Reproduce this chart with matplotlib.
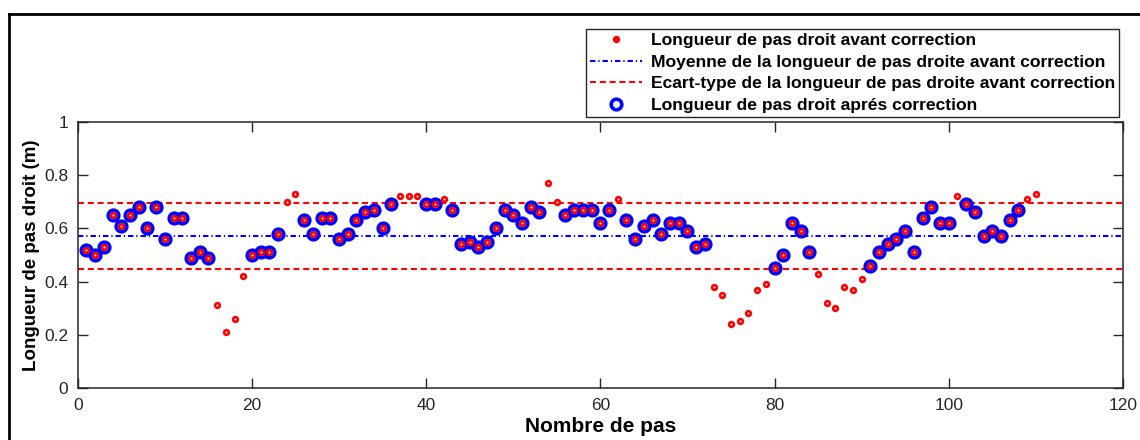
import numpy as np
import matplotlib
matplotlib.use("Agg")
import matplotlib.pyplot as plt
from matplotlib.lines import Line2D
from matplotlib.ticker import FuncFormatter

plt.rcParams['font.family'] = ['Liberation Sans', 'DejaVu Sans']

# right step length before correction, steps 1..110 (m)
pas = np.arange(1, 111)
avant = [0.52, 0.50, 0.53, 0.65, 0.61, 0.65, 0.68, 0.60, 0.68, 0.56,
         0.64, 0.64, 0.49, 0.51, 0.49, 0.31, 0.21, 0.26, 0.42, 0.50,
         0.51, 0.51, 0.58, 0.70, 0.73, 0.63, 0.58, 0.64, 0.64, 0.56,
         0.58, 0.63, 0.66, 0.67, 0.60, 0.69, 0.72, 0.72, 0.72, 0.69,
         0.69, 0.71, 0.67, 0.54, 0.55, 0.53, 0.55, 0.60, 0.67, 0.65,
         0.62, 0.68, 0.66, 0.77, 0.70, 0.65, 0.67, 0.67, 0.67, 0.62,
         0.67, 0.71, 0.63, 0.56, 0.61, 0.63, 0.58, 0.62, 0.62, 0.59,
         0.53, 0.54, 0.38, 0.35, 0.24, 0.25, 0.28, 0.37, 0.39, 0.45,
         0.50, 0.62, 0.59, 0.51, 0.43, 0.32, 0.30, 0.38, 0.37, 0.41,
         0.46, 0.51, 0.54, 0.56, 0.59, 0.51, 0.64, 0.68, 0.62, 0.62,
         0.72, 0.69, 0.66, 0.57, 0.59, 0.57, 0.63, 0.67, 0.71, 0.73]
moyenne = 0.571
ecart = 0.125

avant = np.array(avant)
haut = moyenne + ecart
bas = moyenne - ecart
# after correction: only the steps inside mean +/- std are kept
garde = (avant >= bas) & (avant <= haut)

fig = plt.figure(figsize=(11.4, 4.4), dpi=100)
ax = fig.add_axes([0.0682, 0.118, 0.9168, 0.6055])

ax.plot(pas, avant, 'o', color='red', markersize=5.3, markeredgewidth=0,
        label='Longueur de pas droit avant correction', zorder=4)
ax.plot(pas, avant, 'o', color='white', markersize=1.4, markeredgewidth=0,
        zorder=5)
ax.plot([0, 120], [moyenne, moyenne], color='blue', lw=1.5,
        linestyle=(0, (2.6, 1.4, 0.6, 1.4)),
        label='Moyenne de la longueur de pas droite avant correction')
ax.plot([0, 120], [haut, haut], color='red', lw=1.5,
        linestyle=(0, (2.9, 1.8)),
        label='Ecart-type de la longueur de pas droite avant correction')
ax.plot([0, 120], [bas, bas], color='red', lw=1.5,
        linestyle=(0, (2.9, 1.8)))
ax.plot(pas[garde], avant[garde], 'o', markerfacecolor='none',
        markeredgecolor='blue', markersize=7.6, markeredgewidth=2.6,
        label='Longueur de pas droit aprés correction', zorder=3)

ax.set_xlim(0, 120)
ax.set_ylim(0, 1)
ax.set_xticks(np.arange(0, 121, 20))
ax.set_yticks(np.arange(0, 1.01, 0.2))
ax.yaxis.set_major_formatter(FuncFormatter(lambda v, p: '%g' % round(v, 1)))
ax.tick_params(direction='in', length=7, width=1, top=True, right=True,
               labelsize=12.5, colors='#262626', pad=7)
for s in ax.spines.values():
    s.set_linewidth(1.1)
    s.set_color('#262626')

ax.set_xlabel('Nombre de pas', fontsize=15, fontweight='bold', labelpad=3)
ax.set_ylabel('Longueur de pas droit (m)', fontsize=13.5, fontweight='bold',
              labelpad=3)

leg = ax.legend(loc='upper right', bbox_to_anchor=(0.9816, 0.934),
                bbox_transform=fig.transFigure,
                prop={'weight': 'bold', 'size': 12.6}, fancybox=False,
                framealpha=1, edgecolor='#262626', handlelength=3.0,
                handletextpad=0.5, labelspacing=0.36, borderpad=0.22,
                borderaxespad=0)
leg.get_frame().set_linewidth(1.0)

# outer frame of the figure
fig.add_artist(Line2D([9 / 1140, 9 / 1140], [0, 1 - 14 / 440],
                      transform=fig.transFigure, color='black', lw=2))
fig.add_artist(Line2D([9 / 1140, 1], [1 - 14 / 440, 1 - 14 / 440],
                      transform=fig.transFigure, color='black', lw=2))

fig.savefig('out.png', dpi=100)
